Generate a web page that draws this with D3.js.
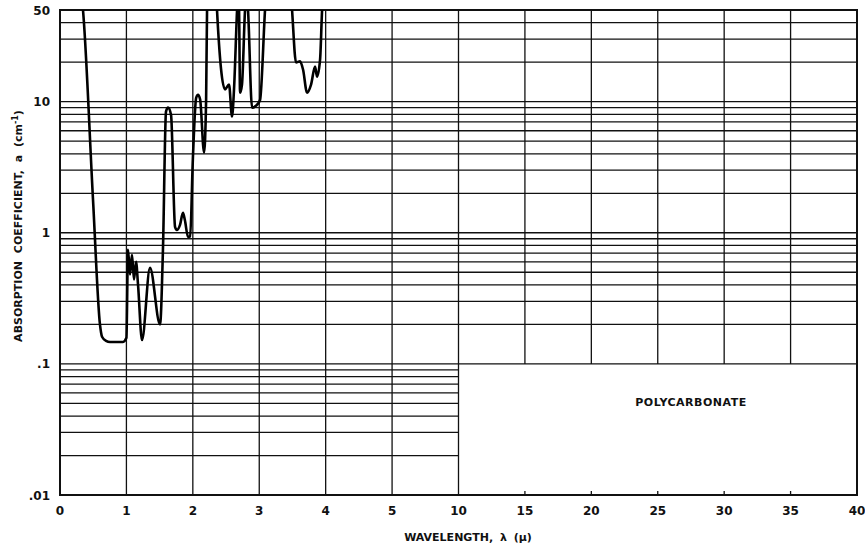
<!DOCTYPE html>
<html>
<head>
<meta charset="utf-8">
<script src="https://cdn.jsdelivr.net/npm/d3@7"></script>
<style>
body { margin: 0; background: #fff; }
text { font-family: "DejaVu Sans", sans-serif; font-weight: bold; fill: #111; }
</style>
</head>
<body>
<script>
// axis ticks: 0..5 then 10..40, all equally spaced on paper
var xTicks = [0, 1, 2, 3, 4, 5, 10, 15, 20, 25, 30, 35, 40];
var yTicks = [0.01, 0.1, 1, 10, 50];
var yTickLabels = [".01", ".1", "1", "10", "50"];

// polycarbonate absorption curve
var wavelength = [0.30, 0.346, 0.497, 0.602, 0.633, 0.693, 0.753, 0.949, 1.0, 1.024,
	1.054, 1.084, 1.114, 1.145, 1.175, 1.235, 1.355, 1.506, 1.55, 1.596,
	1.627, 1.672, 1.732, 1.76, 1.807, 1.852, 1.88, 1.928, 1.96, 2.0,
	2.05, 2.078, 2.11, 2.169, 2.2, 2.214, 2.24, 2.34, 2.364, 2.485,
	2.545, 2.59, 2.62, 2.666, 2.68, 2.696, 2.711, 2.74, 2.786, 2.81,
	2.831, 2.892, 2.95, 3.012, 3.087, 3.12, 3.46, 3.494, 3.554, 3.614,
	3.66, 3.72, 3.78, 3.84, 3.87, 3.916, 3.946, 3.98];
var absorption = [80, 50, 1.79, 0.199, 0.161, 0.15, 0.147, 0.147, 0.158, 0.74,
	0.48, 0.68, 0.44, 0.60, 0.40, 0.152, 0.54, 0.2, 0.74, 8.4,
	9.0, 7.9, 1.11, 1.05, 1.15, 1.42, 1.25, 0.93, 0.94, 3.6,
	10.7, 11.3, 10.4, 4.08, 10.4, 50, 90, 90, 50, 12.4,
	13.5, 7.7, 12.4, 50, 70, 50, 11.7, 13.5, 50, 70,
	50, 9, 9.3, 10.3, 50, 90, 90, 50, 19.9, 20.3,
	17.5, 11.7, 13.5, 18.5, 15.5, 21, 50, 90];

var width = 865, height = 554;
var plotL = 60, plotR = 857, plotT = 10, plotB = 495;

var svg = d3.select("body").append("svg")
	.attr("width", width)
	.attr("height", height);

var step = (plotR - plotL) / (xTicks.length - 1);
var x = d3.scaleLinear()
	.domain(xTicks)
	.range(xTicks.map(function(d, i){ return plotL + i * step; }));
var y = d3.scaleLog()
	.domain([0.01, 50])
	.range([plotB, plotT]);

// grid: 1..9 in every decade, 20..50 in the top one
var yGrid = [];
[0.01, 0.1, 1].forEach(function(dec){
	for(var k = 1; k <= 9; k++) yGrid.push(dec * k);
});
yGrid.push(10, 20, 30, 40, 50);

var grid = svg.append("g")
	.attr("stroke", "#111")
	.attr("stroke-width", 1.3);

grid.selectAll(".hgrid")
	.data(yGrid)
	.enter()
	.append("line")
	.attr("class", "hgrid")
	.attr("x1", x(0))
	.attr("x2", function(d){ return d >= 0.1 ? x(40) : x(10); })
	.attr("y1", function(d){ return y(d); })
	.attr("y2", function(d){ return y(d); });

grid.selectAll(".vgrid")
	.data(xTicks)
	.enter()
	.append("line")
	.attr("class", "vgrid")
	.attr("x1", function(d){ return x(d); })
	.attr("x2", function(d){ return x(d); })
	.attr("y1", y(50))
	.attr("y2", function(d){ return d > 10 ? y(0.1) : y(0.01); });

// small ticks along the bottom of the empty box
grid.selectAll(".btick")
	.data(xTicks.filter(function(d){ return d > 10 && d < 40; }))
	.enter()
	.append("line")
	.attr("class", "btick")
	.attr("x1", function(d){ return x(d); })
	.attr("x2", function(d){ return x(d); })
	.attr("y1", y(0.01))
	.attr("y2", y(0.01) - 4);

svg.append("rect")
	.attr("x", plotL)
	.attr("y", plotT)
	.attr("width", plotR - plotL)
	.attr("height", plotB - plotT)
	.attr("fill", "none")
	.attr("stroke", "#111")
	.attr("stroke-width", 2);

svg.append("clipPath")
	.attr("id", "plot")
	.append("rect")
	.attr("x", plotL)
	.attr("y", plotT)
	.attr("width", plotR - plotL)
	.attr("height", plotB - plotT);

var pts = wavelength.map(function(d, i){ return [d, absorption[i]]; });
var line = d3.line()
	.x(function(d){ return x(d[0]); })
	.y(function(d){ return y(d[1]); })
	.curve(d3.curveMonotoneX);

svg.append("path")
	.datum(pts)
	.attr("clip-path", "url(#plot)")
	.attr("d", line)
	.attr("fill", "none")
	.attr("stroke", "#000")
	.attr("stroke-width", 2.6)
	.attr("stroke-linejoin", "round");

// tick labels
svg.selectAll(".xlab")
	.data(xTicks)
	.enter()
	.append("text")
	.attr("class", "xlab")
	.attr("x", function(d){ return x(d); })
	.attr("y", plotB + 20)
	.attr("text-anchor", "middle")
	.attr("font-size", 12)
	.text(function(d){ return d; });

svg.selectAll(".ylab")
	.data(yTicks)
	.enter()
	.append("text")
	.attr("class", "ylab")
	.attr("x", 50)
	.attr("y", function(d){ return y(d) + 4.5; })
	.attr("text-anchor", "end")
	.attr("font-size", 12)
	.text(function(d, i){ return yTickLabels[i]; });

svg.append("text")
	.attr("x", 468)
	.attr("y", 541)
	.attr("text-anchor", "middle")
	.attr("font-size", 11)
	.attr("word-spacing", 3)
	.text("WAVELENGTH, λ (μ)");

var ytitle = svg.append("text")
	.attr("transform", "translate(22,226) rotate(-90)")
	.attr("text-anchor", "middle")
	.attr("font-size", 11)
	.attr("word-spacing", 4);
ytitle.append("tspan").text("ABSORPTION COEFFICIENT, a (cm");
ytitle.append("tspan").attr("baseline-shift", "super").attr("font-size", 8).text("-1");
ytitle.append("tspan").text(")");

svg.append("text")
	.attr("x", x(27.5))
	.attr("y", y(0.1) + 42)
	.attr("text-anchor", "middle")
	.attr("font-size", 11)
	.attr("letter-spacing", 0.5)
	.text("POLYCARBONATE");
</script>
</body>
</html>
